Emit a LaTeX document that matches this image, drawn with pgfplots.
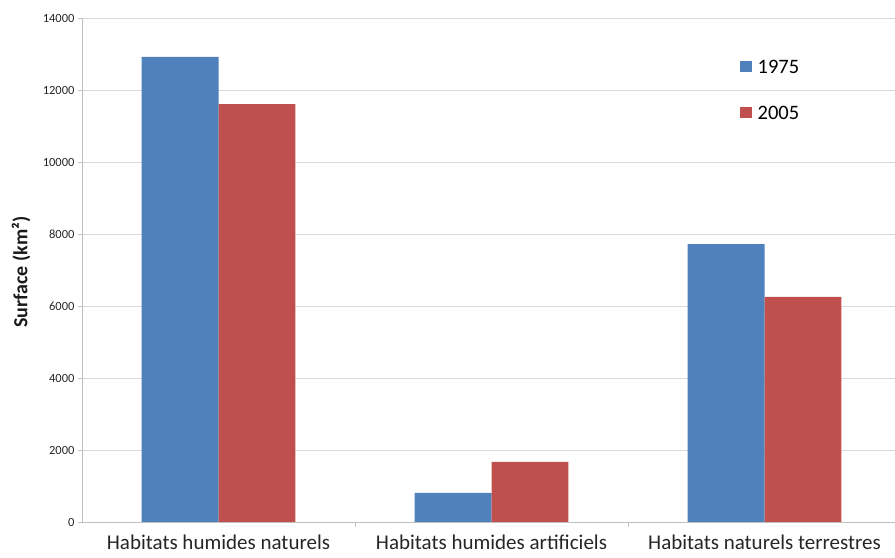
\documentclass[border=0pt]{standalone}
\usepackage{fontspec}
\setmainfont{Carlito}
\usepackage{pgfplots}
\pgfplotsset{compat=1.18}
\definecolor{cblue}{HTML}{4F81BD}
\definecolor{cred}{HTML}{C0504D}
\definecolor{gridc}{HTML}{D9D9D9}
\definecolor{axc}{HTML}{BFBFBF}
\begin{document}
\begin{tikzpicture}
\begin{axis}[
  scale only axis,
  width=813pt, height=504pt,
  ybar=0pt, bar width=0.282,
  xmin=-0.5, xmax=2.478,
  ymin=0, ymax=14000,
  axis x line*=bottom, axis y line*=left,
  axis line style={axc, line width=0.8pt, -},
  ytick={0,2000,...,14000},
  ymajorgrids, major grid style={gridc, line width=0.9pt},
  tick align=outside,
  major tick length=4pt,
  minor tick length=5pt,
  ytick style={axc, line width=0.8pt},
  xtick={0,1,2},
  xticklabels={Habitats humides naturels, Habitats humides artificiels, Habitats naturels terrestres},
  major x tick style={draw=none},
  minor xtick={0.5,1.5},
  minor x tick style={axc, line width=0.8pt},
  scaled y ticks=false,
  /pgf/number format/assume math mode=true,
  yticklabel style={font=\fontsize{12.5}{14}\selectfont, color=black!85, /pgf/number format/1000 sep={}},
  xticklabel style={font=\fontsize{21}{24}\selectfont, color=black!85, yshift=-8pt, inner ysep=1pt},
  ylabel={Surface (km²)},
  ylabel style={font=\fontsize{20}{22}\selectfont\bfseries, color=black!90, at={(axis description cs:-0.075,0.496)}, anchor=center},
  legend style={draw=none, fill=none, font=\fontsize{20.5}{23}\selectfont, at={(axis description cs:0.805,0.925)}, anchor=north west, row sep=27pt, /tikz/every odd column/.append style={column sep=4pt}},
  legend cell align=left,
  legend image code/.code={\fill[#1,draw=none] (0pt,-5pt) rectangle (12pt,6pt);},
]
\addplot[fill=cblue, draw=none] coordinates {(0,12920) (1,810) (2,7720)};
\addplot[fill=cred, draw=none] coordinates {(0,11610) (1,1670) (2,6250)};
\legend{1975, 2005}
\end{axis}
\pgfresetboundingbox
\path[use as bounding box] ([xshift=-82pt,yshift=-36pt]current axis.south west) rectangle ([yshift=18pt]current axis.north east);
\end{tikzpicture}
\end{document}
